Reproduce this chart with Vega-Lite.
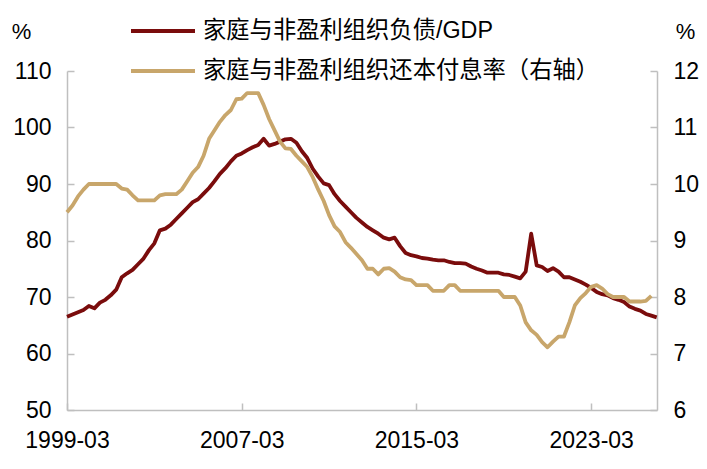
{
  "$schema": "https://vega.github.io/schema/vega-lite/v6.json",
  "width": 590,
  "height": 339,
  "autosize": "none",
  "padding": {"left": 67, "top": 71, "right": 50, "bottom": 59},
  "config": {
    "view": {"stroke": null},
    "font": "Liberation Sans, Noto Sans CJK SC",
    "axis": {
      "grid": false,
      "domainColor": "#bfbfbf",
      "domainWidth": 1.5,
      "tickColor": "#bfbfbf",
      "tickWidth": 1.5,
      "tickSize": -7,
      "labelFontSize": 23,
      "labelColor": "#000000",
      "titleFontSize": 22,
      "titleFontWeight": "normal",
      "titleColor": "#000000"
    }
  },
  "data": {
    "values": [
      {"d": "1999-03-01", "debt": 66.5, "rate": 9.5},
      {"d": "1999-06-01", "debt": 66.9, "rate": 9.62},
      {"d": "1999-09-01", "debt": 67.3, "rate": 9.78},
      {"d": "1999-12-01", "debt": 67.7, "rate": 9.9},
      {"d": "2000-03-01", "debt": 68.4, "rate": 10.0},
      {"d": "2000-06-01", "debt": 68.0, "rate": 10.0},
      {"d": "2000-09-01", "debt": 69.0, "rate": 10.0},
      {"d": "2000-12-01", "debt": 69.5, "rate": 10.0},
      {"d": "2001-03-01", "debt": 70.3, "rate": 10.0},
      {"d": "2001-06-01", "debt": 71.3, "rate": 10.0},
      {"d": "2001-09-01", "debt": 73.5, "rate": 9.92},
      {"d": "2001-12-01", "debt": 74.2, "rate": 9.9},
      {"d": "2002-03-01", "debt": 74.8, "rate": 9.8},
      {"d": "2002-06-01", "debt": 75.8, "rate": 9.71},
      {"d": "2002-09-01", "debt": 76.8, "rate": 9.71},
      {"d": "2002-12-01", "debt": 78.3, "rate": 9.71},
      {"d": "2003-03-01", "debt": 79.5, "rate": 9.71},
      {"d": "2003-06-01", "debt": 81.8, "rate": 9.8},
      {"d": "2003-09-01", "debt": 82.1, "rate": 9.82},
      {"d": "2003-12-01", "debt": 82.8, "rate": 9.82},
      {"d": "2004-03-01", "debt": 83.8, "rate": 9.82},
      {"d": "2004-06-01", "debt": 84.8, "rate": 9.9},
      {"d": "2004-09-01", "debt": 85.8, "rate": 10.05},
      {"d": "2004-12-01", "debt": 86.8, "rate": 10.2},
      {"d": "2005-03-01", "debt": 87.3, "rate": 10.3},
      {"d": "2005-06-01", "debt": 88.3, "rate": 10.5},
      {"d": "2005-09-01", "debt": 89.3, "rate": 10.8},
      {"d": "2005-12-01", "debt": 90.5, "rate": 10.95},
      {"d": "2006-03-01", "debt": 91.8, "rate": 11.1},
      {"d": "2006-06-01", "debt": 92.8, "rate": 11.22},
      {"d": "2006-09-01", "debt": 94.0, "rate": 11.31},
      {"d": "2006-12-01", "debt": 95.0, "rate": 11.5},
      {"d": "2007-03-01", "debt": 95.4, "rate": 11.51},
      {"d": "2007-06-01", "debt": 96.0, "rate": 11.61},
      {"d": "2007-09-01", "debt": 96.5, "rate": 11.61},
      {"d": "2007-12-01", "debt": 96.9, "rate": 11.61},
      {"d": "2008-03-01", "debt": 98.0, "rate": 11.4},
      {"d": "2008-06-01", "debt": 96.8, "rate": 11.15},
      {"d": "2008-09-01", "debt": 97.1, "rate": 10.95},
      {"d": "2008-12-01", "debt": 97.5, "rate": 10.75},
      {"d": "2009-03-01", "debt": 97.9, "rate": 10.63},
      {"d": "2009-06-01", "debt": 98.0, "rate": 10.62},
      {"d": "2009-09-01", "debt": 97.3, "rate": 10.5},
      {"d": "2009-12-01", "debt": 95.8, "rate": 10.4},
      {"d": "2010-03-01", "debt": 94.6, "rate": 10.3},
      {"d": "2010-06-01", "debt": 92.7, "rate": 10.12},
      {"d": "2010-09-01", "debt": 91.3, "rate": 9.9},
      {"d": "2010-12-01", "debt": 90.1, "rate": 9.7},
      {"d": "2011-03-01", "debt": 89.8, "rate": 9.45},
      {"d": "2011-06-01", "debt": 88.2, "rate": 9.25},
      {"d": "2011-09-01", "debt": 87.0, "rate": 9.15},
      {"d": "2011-12-01", "debt": 86.0, "rate": 8.97},
      {"d": "2012-03-01", "debt": 85.0, "rate": 8.87},
      {"d": "2012-06-01", "debt": 84.0, "rate": 8.76},
      {"d": "2012-09-01", "debt": 83.2, "rate": 8.65},
      {"d": "2012-12-01", "debt": 82.4, "rate": 8.5},
      {"d": "2013-03-01", "debt": 81.8, "rate": 8.5},
      {"d": "2013-06-01", "debt": 81.2, "rate": 8.4},
      {"d": "2013-09-01", "debt": 80.5, "rate": 8.5},
      {"d": "2013-12-01", "debt": 80.2, "rate": 8.51},
      {"d": "2014-03-01", "debt": 80.5, "rate": 8.45},
      {"d": "2014-06-01", "debt": 79.0, "rate": 8.35},
      {"d": "2014-09-01", "debt": 77.8, "rate": 8.31},
      {"d": "2014-12-01", "debt": 77.4, "rate": 8.3},
      {"d": "2015-03-01", "debt": 77.2, "rate": 8.21},
      {"d": "2015-06-01", "debt": 76.9, "rate": 8.21},
      {"d": "2015-09-01", "debt": 76.8, "rate": 8.21},
      {"d": "2015-12-01", "debt": 76.6, "rate": 8.11},
      {"d": "2016-03-01", "debt": 76.5, "rate": 8.11},
      {"d": "2016-06-01", "debt": 76.5, "rate": 8.11},
      {"d": "2016-09-01", "debt": 76.2, "rate": 8.21},
      {"d": "2016-12-01", "debt": 76.0, "rate": 8.21},
      {"d": "2017-03-01", "debt": 76.0, "rate": 8.11},
      {"d": "2017-06-01", "debt": 75.9, "rate": 8.11},
      {"d": "2017-09-01", "debt": 75.4, "rate": 8.11},
      {"d": "2017-12-01", "debt": 75.0, "rate": 8.11},
      {"d": "2018-03-01", "debt": 74.7, "rate": 8.11},
      {"d": "2018-06-01", "debt": 74.3, "rate": 8.11},
      {"d": "2018-09-01", "debt": 74.3, "rate": 8.11},
      {"d": "2018-12-01", "debt": 74.3, "rate": 8.11},
      {"d": "2019-03-01", "debt": 74.0, "rate": 8.0},
      {"d": "2019-06-01", "debt": 73.9, "rate": 8.0},
      {"d": "2019-09-01", "debt": 73.6, "rate": 8.0},
      {"d": "2019-12-01", "debt": 73.3, "rate": 7.85},
      {"d": "2020-03-01", "debt": 74.5, "rate": 7.55},
      {"d": "2020-06-01", "debt": 81.2, "rate": 7.41},
      {"d": "2020-09-01", "debt": 75.6, "rate": 7.33},
      {"d": "2020-12-01", "debt": 75.3, "rate": 7.2},
      {"d": "2021-03-01", "debt": 74.6, "rate": 7.11},
      {"d": "2021-06-01", "debt": 75.1, "rate": 7.21},
      {"d": "2021-09-01", "debt": 74.5, "rate": 7.3},
      {"d": "2021-12-01", "debt": 73.5, "rate": 7.3},
      {"d": "2022-03-01", "debt": 73.5, "rate": 7.55},
      {"d": "2022-06-01", "debt": 73.1, "rate": 7.85},
      {"d": "2022-09-01", "debt": 72.7, "rate": 7.98},
      {"d": "2022-12-01", "debt": 72.2, "rate": 8.07},
      {"d": "2023-03-01", "debt": 71.6, "rate": 8.18},
      {"d": "2023-06-01", "debt": 70.9, "rate": 8.21},
      {"d": "2023-09-01", "debt": 70.5, "rate": 8.15},
      {"d": "2023-12-01", "debt": 70.3, "rate": 8.05},
      {"d": "2024-03-01", "debt": 69.8, "rate": 8.0},
      {"d": "2024-06-01", "debt": 69.5, "rate": 8.0},
      {"d": "2024-09-01", "debt": 69.1, "rate": 8.0},
      {"d": "2024-12-01", "debt": 68.3, "rate": 7.92},
      {"d": "2025-03-01", "debt": 67.9, "rate": 7.92},
      {"d": "2025-06-01", "debt": 67.6, "rate": 7.92},
      {"d": "2025-09-01", "debt": 67.0, "rate": 7.93},
      {"d": "2025-12-01", "debt": 66.7, "rate": 8.02},
      {"d": "2026-03-01", "debt": 66.4, "rate": null}
    ]
  },
  "encoding": {
    "x": {
      "field": "d",
      "type": "temporal",
      "scale": {
        "type": "utc",
        "domain": [
          {"year": 1999, "month": 3, "date": 1, "utc": true},
          {"year": 2026, "month": 3, "date": 6, "utc": true}
        ]
      },
      "axis": {
        "title": null,
        "values": [
          {"year": 1999, "month": 3, "date": 1, "utc": true},
          {"year": 2007, "month": 3, "date": 1, "utc": true},
          {"year": 2015, "month": 3, "date": 1, "utc": true},
          {"year": 2023, "month": 3, "date": 1, "utc": true}
        ],
        "labelExpr": "utcFormat(datum.value, '%Y-%m')",
        "labelFlush": false,
        "labelOverlap": false,
        "labelBound": false,
        "labelPadding": 26
      }
    }
  },
  "layer": [
    {
      "mark": {"type": "line", "strokeWidth": 3.8, "strokeJoin": "round"},
      "encoding": {
        "y": {
          "field": "debt",
          "type": "quantitative",
          "scale": {"domain": [50, 110], "nice": false, "zero": false},
          "axis": {
            "orient": "left",
            "values": [50, 60, 70, 80, 90, 100, 110],
            "labelPadding": 23,
            "title": "%",
            "titleAngle": 0,
            "titleAlign": "center",
            "titleBaseline": "middle",
            "titleX": -46,
            "titleY": -40
          }
        },
        "color": {
          "datum": "家庭与非盈利组织负债/GDP",
          "type": "nominal",
          "scale": {
            "domain": ["家庭与非盈利组织负债/GDP", "家庭与非盈利组织还本付息率（右轴）"],
            "range": ["#7a0c0c", "#c8a66b"]
          },
          "legend": {
            "title": null,
            "orient": "none",
            "legendX": 62,
            "legendY": -60,
            "symbolType": "stroke",
            "symbolSize": 4096,
            "symbolStrokeWidth": 4,
            "clipHeight": 40,
            "rowPadding": 0,
            "labelFontSize": 23.3,
            "labelColor": "#000000",
            "labelOffset": 6,
            "labelLimit": 600
          }
        }
      }
    },
    {
      "mark": {"type": "line", "strokeWidth": 3.8, "strokeJoin": "round"},
      "encoding": {
        "y": {
          "field": "rate",
          "type": "quantitative",
          "scale": {"domain": [6, 12], "nice": false, "zero": false},
          "axis": {
            "orient": "right",
            "values": [6, 7, 8, 9, 10, 11, 12],
            "labelPadding": 23,
            "title": "%",
            "titleAngle": 0,
            "titleAlign": "center",
            "titleBaseline": "middle",
            "titleX": 28,
            "titleY": -40
          }
        },
        "color": {"datum": "家庭与非盈利组织还本付息率（右轴）", "type": "nominal"}
      }
    }
  ],
  "resolve": {"scale": {"y": "independent"}}
}
